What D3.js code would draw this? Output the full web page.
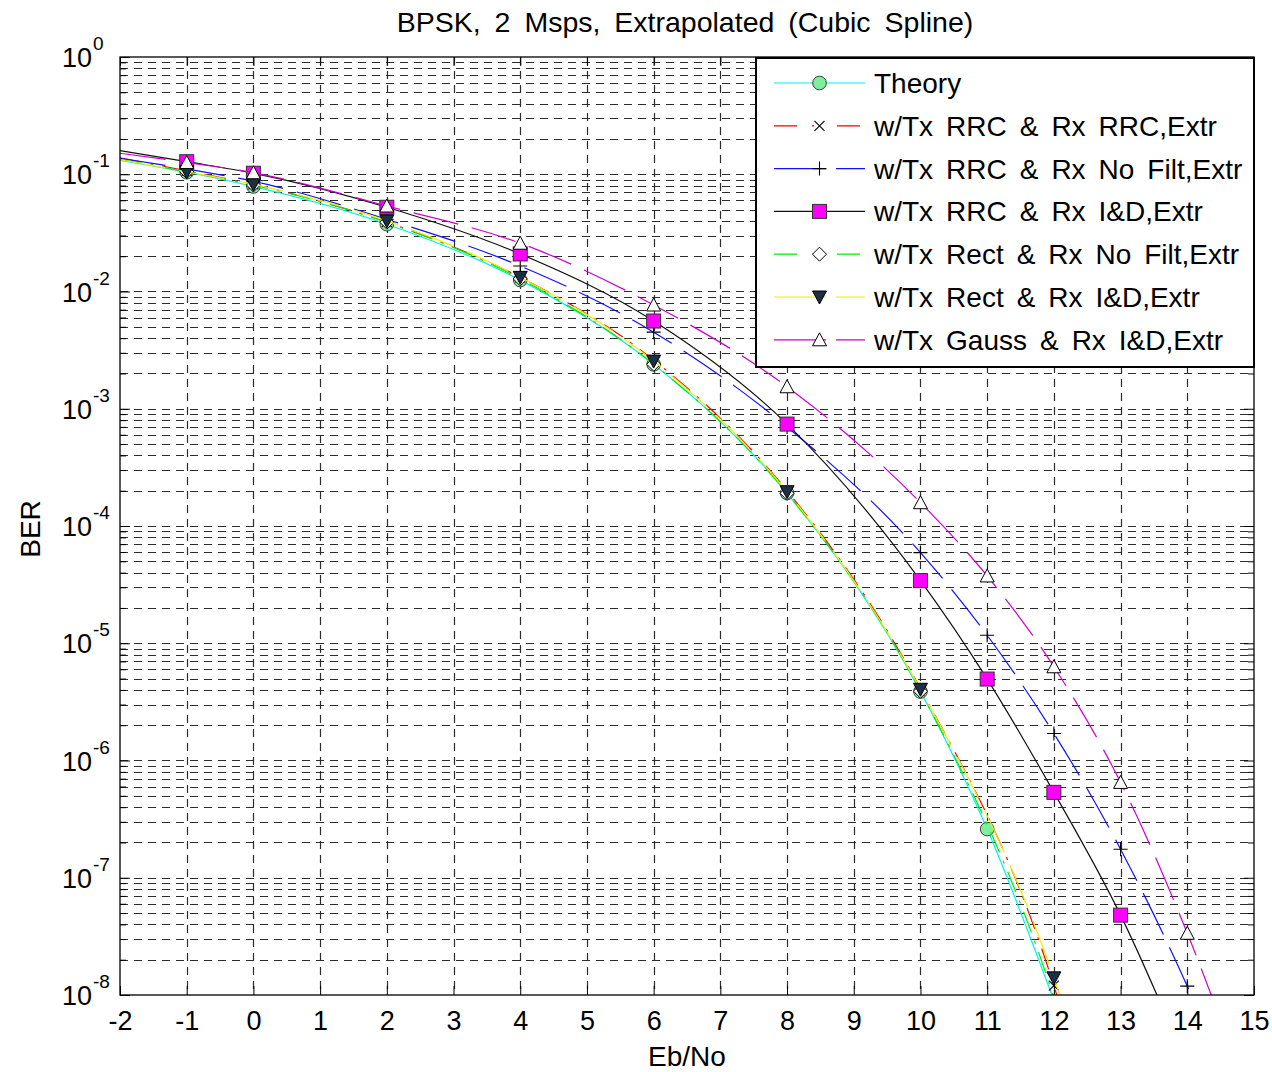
<!DOCTYPE html>
<html><head><meta charset="utf-8">
<script src="https://cdn.jsdelivr.net/npm/d3@7"></script>
<style>
body{margin:0;background:#fff}
text{font-family:"Liberation Sans",Arial,Helvetica,sans-serif;fill:#000}
</style>
</head><body>
<svg id="chart" width="1272" height="1072"></svg>
<script>
// ---------------- data ----------------
const titleText = "BPSK, 2 Msps, Extrapolated (Cubic Spline)";
const xLabel = "Eb/No";
const yLabel = "BER";
const xTickVals = [-2,-1,0,1,2,3,4,5,6,7,8,9,10,11,12,13,14,15];
const yTickExps = [0,-1,-2,-3,-4,-5,-6,-7,-8];

// Eb/No knots of the cubic-spline curves
const ebno = [-2,-1,0,2,4,6,8,10,11,12,13,14,15];
const berTheory  = [0.131,0.104,0.0786,0.0375,0.0125,0.00239,1.91e-4,3.87e-6,2.6e-7,9.0e-9,null,null,null];
const berRrcRrc  = [0.138,0.107,0.082,0.039,0.0132,0.0026,2.0e-4,4.1e-6,null,1.2e-8,1e-10,null,null];
const berRrcNoF  = [0.137,0.111,0.087,0.0413,0.0165,0.0045,7.0e-4,5.93e-5,1.17e-5,1.7e-6,1.75e-7,1.19e-8,5e-10];
const berRrcID   = [0.159,0.128,0.102,0.0523,0.0209,0.0056,7.4e-4,3.42e-5,4.95e-6,5.35e-7,4.8e-8,2.5e-9,null];
const berRectNoF = [0.134,0.105,0.081,0.039,0.0128,0.0024,1.9e-4,3.9e-6,null,9.5e-9,1e-10,null,null];
const berRectID  = [0.133,0.105,0.082,0.040,0.0132,0.00255,1.96e-4,4.05e-6,null,1.4e-8,2e-10,null,null];
const berGaussID = [0.151,0.126,0.103,0.0536,0.0258,0.00767,0.00154,1.58e-4,3.75e-5,6.3e-6,6.5e-7,3.36e-8,1e-9];

const seriesNames = ["Theory","w/Tx RRC & Rx RRC,Extr","w/Tx RRC & Rx No Filt,Extr","w/Tx RRC & Rx I&D,Extr",
  "w/Tx Rect & Rx No Filt,Extr","w/Tx Rect & Rx I&D,Extr","w/Tx Gauss & Rx I&D,Extr"];

// ---------------- styles ----------------
const DASH = "46,14", DASHDOT = "22,9,3,9";
const styles = [
  {vals:berTheory,  color:"#00f0f0", dash:null,    marker:"circle"},
  {vals:berRrcRrc,  color:"#ff0000", dash:DASHDOT, marker:"x"},
  {vals:berRrcNoF,  color:"#1010ff", dash:DASH,    marker:"plus"},
  {vals:berRrcID,   color:"#111111", dash:null,    marker:"square"},
  {vals:berRectNoF, color:"#00ee00", dash:DASHDOT, marker:"diamond"},
  {vals:berRectID,  color:"#f0f000", dash:DASH,    marker:"tridown"},
  {vals:berGaussID, color:"#d000d0", dash:DASH,    marker:"triup"}
];

const L=120,R=1254,T=57,B=995;
const svg = d3.select("#chart");
const x = d3.scaleLinear().domain([-2,15]).range([L,R]);
const y = d3.scaleLog().domain([1e-8,1]).range([B,T]);

svg.append("rect").attr("width",1272).attr("height",1072).attr("fill","#fff");

// ---------------- grid ----------------
const gridCol="#2c2c2c", gridDash="8,6";
svg.append("g").selectAll("line").data(xTickVals.filter(v=>v>-2&&v<15)).join("line")
  .attr("x1",d=>Math.round(x(d))+0.5).attr("x2",d=>Math.round(x(d))+0.5).attr("y1",T).attr("y2",B)
  .attr("stroke",gridCol).attr("stroke-width",1.2).attr("stroke-dasharray",gridDash);
const yMinor=[], yMajor=[];
yTickExps.forEach(e=>{ yMajor.push(Math.pow(10,e)); if(e<0) for(let k=2;k<=9;k++) yMinor.push(k*Math.pow(10,e)); });
const yGridVals = yMajor.filter(v=>v>1e-8&&v<1).concat(yMinor);
svg.append("g").selectAll("line").data(yGridVals).join("line")
  .attr("x1",L).attr("x2",R).attr("y1",d=>Math.round(y(d))+0.5).attr("y2",d=>Math.round(y(d))+0.5)
  .attr("stroke",gridCol).attr("stroke-width",1.2).attr("stroke-dasharray",gridDash);

// ---------------- axes (ticks) ----------------
function styleAxis(g){ g.select(".domain").remove(); g.selectAll(".tick line").attr("stroke","#000"); }
svg.append("g").attr("transform",`translate(0,${B})`)
  .call(d3.axisBottom(x).tickValues(xTickVals).tickSize(-9).tickPadding(16).tickFormat(d=>d))
  .call(styleAxis)
  .call(g=>g.selectAll("text").attr("font-size",27).attr("font-family","Liberation Sans, Arial, sans-serif").attr("fill","#000"));
svg.append("g").attr("transform",`translate(0,${T})`)
  .call(d3.axisTop(x).tickValues(xTickVals).tickSize(-9).tickFormat(""))
  .call(styleAxis);
svg.append("g").attr("transform",`translate(${L},0)`)
  .call(d3.axisLeft(y).tickValues(yMajor).tickSize(-10).tickFormat(""))
  .call(styleAxis);
svg.append("g").attr("transform",`translate(${L},0)`)
  .call(d3.axisLeft(y).tickValues(yMinor).tickSize(-6).tickFormat(""))
  .call(styleAxis);
svg.append("g").attr("transform",`translate(${R},0)`)
  .call(d3.axisRight(y).tickValues(yMajor).tickSize(-10).tickFormat(""))
  .call(styleAxis);
svg.append("g").attr("transform",`translate(${R},0)`)
  .call(d3.axisRight(y).tickValues(yMinor).tickSize(-6).tickFormat(""))
  .call(styleAxis);

// y tick labels 10^e
const yl = svg.append("g").selectAll("text").data(yTickExps).join("text")
  .attr("x",62).attr("y",d=>y(Math.pow(10,d))+10).attr("font-size",27);
yl.append("tspan").text("10");
yl.append("tspan").attr("dy",-17).attr("dx",1).attr("font-size",19).text(d=>String(d));

// ---------------- curves ----------------
svg.append("clipPath").attr("id","plotclip").append("rect")
  .attr("x",L).attr("y",T).attr("width",R-L).attr("height",B-T);
const line = d3.line().defined(d=>d[1]!=null).x(d=>x(d[0])).y(d=>y(d[1])).curve(d3.curveMonotoneX);

function drawMarker(g, type, cx, cy){
  const s = g.append("g").attr("transform",`translate(${cx},${cy})`);
  if(type==="circle") s.append("circle").attr("r",6.8).attr("fill","#7ef09c").attr("stroke","#2b2b2b").attr("stroke-width",0.9);
  else if(type==="x") s.append("path").attr("d","M-5,-5L5,5M-5,5L5,-5").attr("stroke","#000").attr("stroke-width",1.1);
  else if(type==="plus") s.append("path").attr("d","M-7,0L7,0M0,-7L0,7").attr("stroke","#000").attr("stroke-width",1.1);
  else if(type==="square") s.append("rect").attr("x",-7).attr("y",-7).attr("width",14).attr("height",14).attr("fill","#ff00ff").attr("stroke","#333").attr("stroke-width",1);
  else if(type==="diamond") s.append("path").attr("d","M0,-7L7,0L0,7L-7,0Z").attr("fill","#fff").attr("stroke","#000").attr("stroke-width",1);
  else if(type==="tridown") s.append("path").attr("d","M-7,-6L7,-6L0,7Z").attr("fill","#1c2f45").attr("stroke","#000").attr("stroke-width",1);
  else if(type==="triup") s.append("path").attr("d","M-7,6L7,6L0,-7Z").attr("fill","#fff").attr("stroke","#000").attr("stroke-width",1);
}

const plotG = svg.append("g");
styles.forEach(st=>{
  const pts = ebno.map((e,i)=>[e,st.vals[i]]).filter(d=>d[1]!=null);
  const p = plotG.append("path").datum(pts).attr("d",line).attr("clip-path","url(#plotclip)")
    .attr("fill","none").attr("stroke",st.color).attr("stroke-width",1.2);
  if(st.dash) p.attr("stroke-dasharray",st.dash);
  pts.filter(d=>d[0]>-2 && d[1]>=1e-8 && d[0]<=14).forEach(d=>drawMarker(plotG, st.marker, x(d[0]), y(d[1])));
});

// ---------------- frame ----------------
svg.append("rect").attr("x",L).attr("y",T).attr("width",R-L).attr("height",B-T)
  .attr("fill","none").attr("stroke","#000").attr("stroke-width",1.3);

// ---------------- legend ----------------
const lg = svg.append("g");
lg.append("rect").attr("x",756).attr("y",58).attr("width",498).attr("height",309)
  .attr("fill","#fff").attr("stroke","#000").attr("stroke-width",2);
seriesNames.forEach((name,i)=>{
  const cy = 83 + i*42.8, st = styles[i];
  const l = lg.append("line").attr("x1",774).attr("x2",865).attr("y1",cy).attr("y2",cy)
    .attr("stroke",st.color).attr("stroke-width",1.2);
  if(st.dash===DASH) l.attr("stroke-dasharray","52,10");
  if(st.dash===DASHDOT) l.attr("stroke-dasharray","23,15,2,23");
  drawMarker(lg, st.marker, 819.5, cy);
  lg.append("text").attr("x",874).attr("y",cy+10).attr("font-size",28)
    .attr("word-spacing",5.2).text(name);
});

// ---------------- titles ----------------
svg.append("text").attr("x",685).attr("y",32).attr("text-anchor","middle")
  .attr("font-size",28.5).attr("word-spacing",6).text(titleText);
svg.append("text").attr("x",687).attr("y",1066).attr("text-anchor","middle")
  .attr("font-size",28).text(xLabel);
svg.append("text").attr("transform","translate(40,529) rotate(-90)").attr("text-anchor","middle")
  .attr("font-size",28).text(yLabel);
</script>
</body></html>
